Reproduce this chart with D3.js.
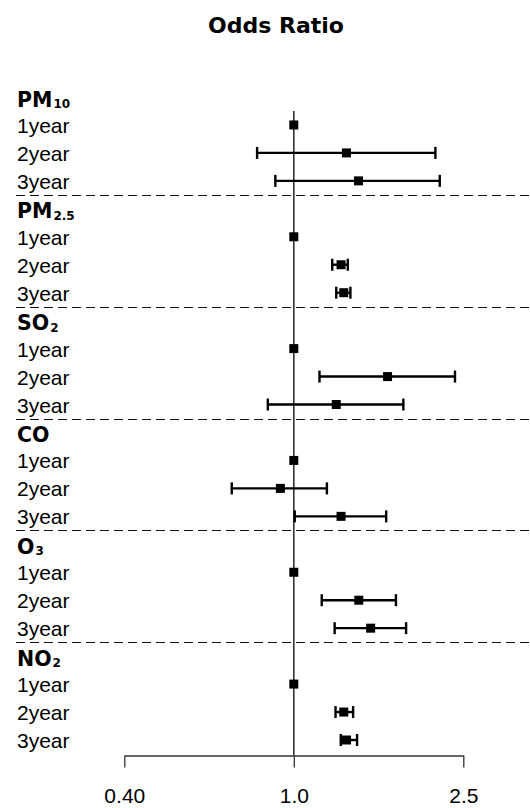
<!DOCTYPE html>
<html>
<head>
<meta charset="utf-8">
<script src="https://cdn.jsdelivr.net/npm/d3@7"></script>
<style>
  html, body { margin: 0; padding: 0; background: #fff; }
  svg { display: block; }
</style>
</head>
<body>
<svg id="chart" width="530" height="808"></svg>
<script>
// ---- data ----
const pollutants = ["PM", "PM", "SO", "CO", "O", "NO"];
const subscripts = ["10", "2.5", "2", "", "3", "2"];
const periods = ["1year", "2year", "3year"];
const estimate = [
  [1, 1.329, 1.419],
  [1, 1.291, 1.310],
  [1, 1.660, 1.258],
  [1, 0.930, 1.291],
  [1, 1.421, 1.515],
  [1, 1.310, 1.330]
];
const lower = [
  [1, 0.820, 0.905],
  [1, 1.231, 1.258],
  [1, 1.149, 0.869],
  [1, 0.715, 1.005],
  [1, 1.163, 1.247],
  [1, 1.253, 1.289]
];
const upper = [
  [1, 2.150, 2.201],
  [1, 1.339, 1.358],
  [1, 2.390, 1.808],
  [1, 1.196, 1.648],
  [1, 1.737, 1.835],
  [1, 1.378, 1.408]
];
const tickValues = [0.4, 1.0, 2.5];
const tickLabels = ["0.40", "1.0", "2.5"];
const title = "Odds Ratio";

// ---- layout ----
const svg = d3.select("#chart");
const nRows = pollutants.length * (periods.length + 1);
const x = d3.scaleLog().domain([0.4, 2.5]).range([124.3, 463.3]);
const y = d3.scaleLinear().domain([0, nRows - 1]).range([97, 740]);
const axisY = 755.5;
const regular = "'Liberation Sans', Arial, sans-serif";
const bold = "'DejaVu Sans', 'Liberation Sans', sans-serif";

// title
svg.append("text")
  .attr("x", 276).attr("y", 33)
  .attr("text-anchor", "middle")
  .style("font-family", bold).style("font-weight", "bold")
  .style("font-size", "22px")
  .text(title);

// rows
const rows = [];
pollutants.forEach((p, g) => {
  const base = g * (periods.length + 1);
  rows.push({ type: "header", i: base, main: p, sub: subscripts[g] });
  periods.forEach((per, k) => {
    rows.push({ type: "row", i: base + 1 + k, label: per,
      est: estimate[g][k], lo: lower[g][k], hi: upper[g][k], ref: k === 0 });
  });
});

// separators
for (let g = 1; g < pollutants.length; g++) {
  const yy = Math.round(y(g * (periods.length + 1) - 0.5)) + 0.5;
  svg.append("line")
    .attr("x1", 16).attr("x2", 530)
    .attr("y1", yy).attr("y2", yy)
    .attr("stroke", "#111").attr("stroke-width", 1.1)
    .attr("stroke-dasharray", "9,5");
}

// reference line
svg.append("line")
  .attr("x1", x(1)).attr("x2", x(1))
  .attr("y1", y(0.5)).attr("y2", axisY)
  .attr("stroke", "#333").attr("stroke-width", 1.6);

// headers
rows.filter(r => r.type === "header").forEach(r => {
  const t = svg.append("text")
    .attr("x", 17).attr("y", y(r.i) + 9.5)
    .style("font-family", bold).style("font-weight", "bold")
    .style("font-size", "20.5px");
  t.append("tspan").text(r.main);
  if (r.sub) {
    t.append("tspan").attr("dx", 1).attr("dy", 1.5)
      .style("font-size", "12px").text(r.sub);
  }
});

// row labels
svg.selectAll("text.row").data(rows.filter(r => r.type === "row"))
  .join("text").attr("class", "row")
  .attr("x", 17).attr("y", d => y(d.i) + 8)
  .style("font-family", regular).style("font-size", "21px")
  .text(d => d.label);

// CIs
const ci = rows.filter(r => r.type === "row" && !r.ref);
const capH = 6;
const ciW = 2.4;
svg.selectAll("line.ci").data(ci).join("line").attr("class", "ci")
  .attr("x1", d => x(d.lo)).attr("x2", d => x(d.hi))
  .attr("y1", d => y(d.i)).attr("y2", d => y(d.i))
  .attr("stroke", "#000").attr("stroke-width", ciW);
svg.selectAll("line.capL").data(ci).join("line").attr("class", "capL")
  .attr("x1", d => x(d.lo)).attr("x2", d => x(d.lo))
  .attr("y1", d => y(d.i) - capH).attr("y2", d => y(d.i) + capH)
  .attr("stroke", "#000").attr("stroke-width", ciW);
svg.selectAll("line.capR").data(ci).join("line").attr("class", "capR")
  .attr("x1", d => x(d.hi)).attr("x2", d => x(d.hi))
  .attr("y1", d => y(d.i) - capH).attr("y2", d => y(d.i) + capH)
  .attr("stroke", "#000").attr("stroke-width", ciW);

// point estimates
const box = 9;
svg.selectAll("rect.pt").data(rows.filter(r => r.type === "row"))
  .join("rect").attr("class", "pt")
  .attr("x", d => x(d.est) - box / 2).attr("y", d => y(d.i) - box / 2)
  .attr("width", box).attr("height", box)
  .attr("fill", "#000");

// axis
const axis = d3.axisBottom(x)
  .tickValues(tickValues)
  .tickFormat((d, i) => tickLabels[i])
  .tickSize(12).tickSizeOuter(0).tickPadding(21);
const ag = svg.append("g").attr("transform", `translate(0,${axisY})`).call(axis);
ag.select(".domain").attr("stroke", "#333").attr("stroke-width", 1.3);
ag.selectAll(".tick line").attr("stroke", "#333").attr("stroke-width", 1.3);
ag.selectAll(".tick text")
  .attr("fill", "#000")
  .style("font-family", regular).style("font-size", "21px");
</script>
</body>
</html>
